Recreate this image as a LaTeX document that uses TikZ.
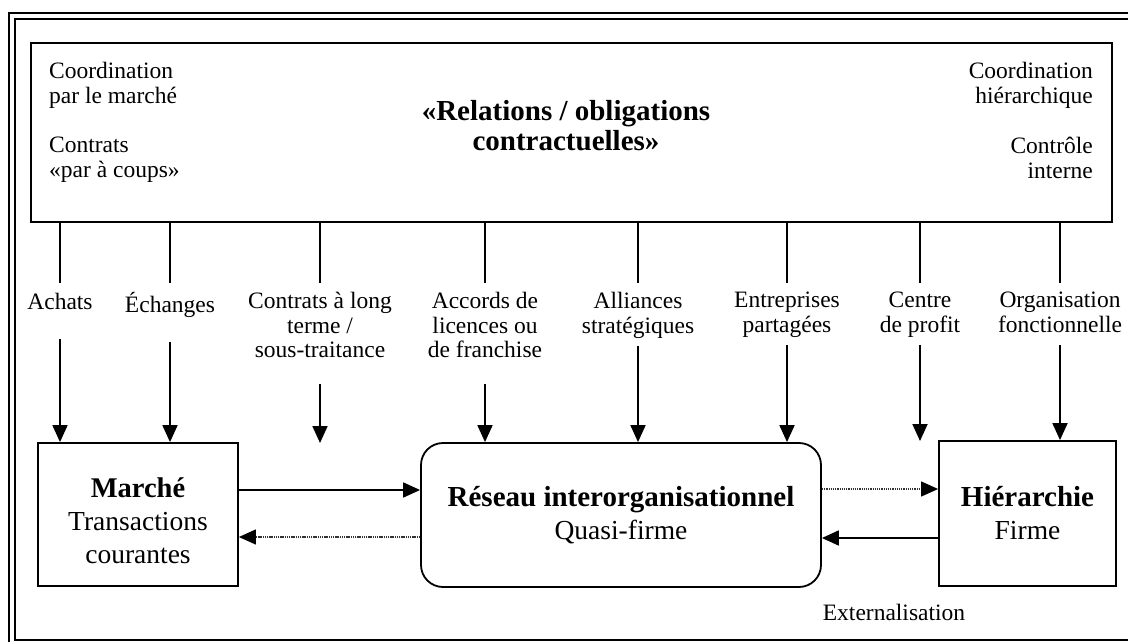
\documentclass[tikz,border=0pt]{standalone}
\usepackage{fontspec}
\setmainfont{Liberation Serif}
\usetikzlibrary{arrows.meta}
\begin{document}
\begin{tikzpicture}[x=1pt,y=-1pt,
  small/.style={font=\fontsize{23.5}{24.5}\selectfont},
  boxtext/.style={font=\fontsize{27.5}{33}\selectfont},
  lbl/.style={small, align=center, inner sep=0pt, anchor=north,
    execute at begin node=\strut, execute at end node=\strut},
  corner/.style={small, inner sep=0pt, execute at begin node=\strut},
  up/.style={line width=1.3pt, shorten >=9pt},
  tip/.style={-{Triangle[length=17pt,width=15pt,color=black]}},
  arr/.style={line width=1.8pt, shorten <=#1, tip},
  arr/.default=13pt,
  harr/.style={line width=1.8pt, tip},
  dotarr/.style={line width=1.3pt, draw=black!80,
    dash pattern=on 1.3pt off 0.9pt, tip},
  boxnode/.style={draw=black, line width=1.8pt, align=center, inner sep=0pt},
]
\useasboundingbox (0,0) rectangle (1128,642);

% double frame round the figure
\draw[line width=2pt] (9,13) rectangle (1140,652);
\draw[line width=1.2pt] (15,19) rectangle (1134,640);

% top band: contractual relations
\node[draw=black, line width=1.4pt, minimum width=1081pt, minimum height=179pt,
  inner sep=0pt] (rel) at (571.5,132.5) {};
\node[font=\fontsize{29}{30}\selectfont\bfseries, align=center, anchor=north,
  inner sep=0pt, execute at begin node=\strut] (title) at (566,100)
  {«Relations / obligations\\contractuelles»};
\node[corner, align=left, anchor=north west] (cml) at (49,62)
  {Coordination\\par le marché};
\node[corner, align=left, anchor=north west] (cpc) at (49,137)
  {Contrats\\«par à coups»};
\node[corner, align=right, anchor=north east] (chi) at (1093,62)
  {Coordination\\hiérarchique};
\node[corner, align=right, anchor=north east] (cin) at (1093,137)
  {Contrôle\\interne};

% the three forms of organisation
\node[boxnode, boxtext, minimum width=200pt, minimum height=143pt] (marche)
  at (138,514.5) {\rule{0pt}{32pt}{\fontsize{28.5}{33}\selectfont\bfseries Marché}\\Transactions\\courantes};
\node[boxnode, boxtext, rounded corners=22pt, minimum width=400pt,
  minimum height=144pt] (reseau) at (621,515)
  {{\fontsize{29}{33}\selectfont\bfseries Réseau interorganisationnel}\\Quasi-firme};
\node[boxnode, boxtext, minimum width=177pt, minimum height=145pt] (hier)
  at (1027.5,513.5) {{\fontsize{29}{33}\selectfont\bfseries Hiérarchie}\\Firme};

% forms of contract
\node[lbl] (achats) at (60,292) {Achats};
\node[lbl] (echanges) at (170,292) {Échanges};
\node[lbl] (longterme) at (320,292) {Contrats à long\\terme /\\sous-traitance};
\node[lbl] (licences) at (485,292) {Accords de\\licences ou\\de franchise};
\node[lbl] (alliances) at (638,292) {Alliances\\stratégiques};
\node[lbl] (partagees) at (787,292) {Entreprises\\partagées};
\node[lbl] (profit) at (920,292) {Centre\\de profit};
\node[lbl] (fonction) at (1060,292) {Organisation\\fonctionnelle};

\coordinate (endlong) at (320,443);
\coordinate (endprofit) at (920,441);

\foreach \n in {achats,echanges,longterme,licences,alliances,partagees,profit,fonction}
  \draw[up] (rel.south -| \n.north) -- (\n.north);

\draw[arr=22pt] (achats.south) -- (achats.south |- marche.north);
\draw[arr=22pt] (echanges.south) -- (echanges.south |- marche.north);
\draw[arr=19pt] (longterme.south) -- (endlong);
\draw[arr=19pt] (licences.south) -- (licences.south |- reseau.north);
\draw[arr=5pt] (alliances.south) -- (alliances.south |- reseau.north);
\draw[arr=5pt] (partagees.south) -- (partagees.south |- reseau.north);
\draw[arr=5pt] (profit.south) -- (endprofit);
\draw[arr=5pt] (fonction.south) -- (fonction.south |- hier.north);

% moves between the forms
\draw[harr] (marche.east |- 0,490) -- (reseau.west |- 0,490);
\draw[dotarr] (reseau.west |- 0,537) -- (marche.east |- 0,537);
\draw[dotarr] (reseau.east |- 0,489) -- (hier.west |- 0,489);
\draw[harr] (hier.west |- 0,538) -- (reseau.east |- 0,538);
\node[small, inner sep=0pt] (ext) at (894,612) {Externalisation};
\end{tikzpicture}
\end{document}
